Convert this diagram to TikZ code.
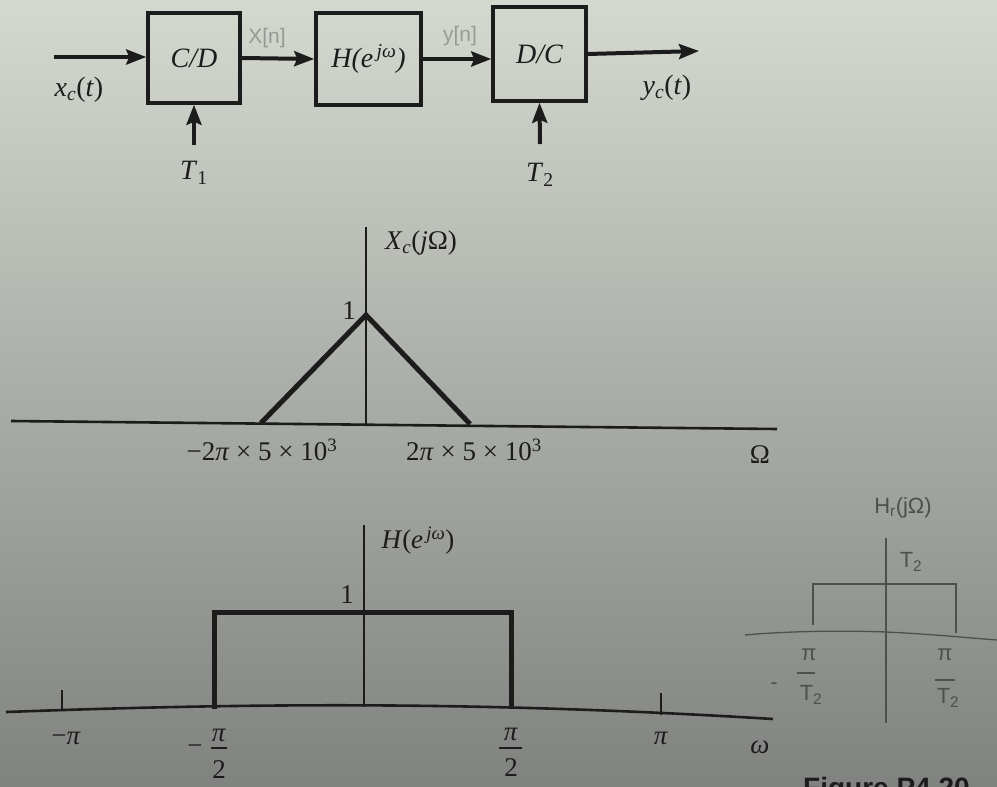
\documentclass[tikz,border=0pt]{standalone}
\usepackage{fontspec}
\setmainfont{Liberation Serif}
\newfontfamily\handfont{Liberation Sans}
\usetikzlibrary{arrows.meta}
\definecolor{bgtop}{RGB}{212,217,208}
\definecolor{bgbot}{RGB}{128,130,127}
\definecolor{ink}{RGB}{28,28,28}
\definecolor{pencil}{RGB}{150,154,150}
\definecolor{pencildark}{RGB}{78,80,78}
\newcommand{\bigfs}{\fontsize{28}{30}\selectfont}
\newcommand{\tickfs}{\fontsize{27}{29}\selectfont}
\tikzset{
  blk/.style={draw=ink, line width=3.5pt, inner sep=0pt, font=\bigfs\itshape, text=ink},
  arr/.style={draw=ink, line width=4pt, -{Stealth[length=20pt,width=15pt,inset=3pt]}},
  lbl/.style={font=\bigfs, text=ink, inner sep=0pt},
  tlbl/.style={font=\tickfs, text=ink, inner sep=0pt},
  axisln/.style={draw=ink, line width=2.6pt},
  vaxis/.style={draw=ink, line width=1.6pt},
  curve/.style={draw=ink, line width=5pt, line join=miter},
  fracbar/.style={draw=ink, line width=1.8pt},
  hand/.style={font=\handfont\fontsize{21}{23}\selectfont, text=pencil, inner sep=0pt},
  handln/.style={draw=pencildark, line width=1.3pt},
  handtx/.style={font=\handfont\fontsize{22}{24}\selectfont, text=pencildark, inner sep=0pt}
}
\begin{document}
\begin{tikzpicture}[x=1pt,y=-1pt]
\useasboundingbox (0,0) rectangle (997,787);
\clip (0,0) rectangle (997,787);
\shade[top color=bgtop, bottom color=bgbot] (0,0) rectangle (997,787);

% ---------- block diagram ----------
\node[blk, minimum width=92pt, minimum height=90pt] (cd) at (194,58) {C/D};
\node[blk, minimum width=105pt, minimum height=92pt] (hb) at (368.5,59) {H(e\textsuperscript{\,jω})};
\node[blk, minimum width=93pt, minimum height=94pt] (dc) at (539.5,54) {D/C};
\coordinate (xin) at (54,57);
\coordinate (yout) at (699,51);
\coordinate (t1in) at (194,145);
\coordinate (t2in) at (540,144);
\draw[arr] (xin) -- (xin -| cd.west);
\draw[arr] (cd.east) -- (hb.west);
\draw[arr] (hb.east) -- (hb.east -| dc.west);
\draw[arr] (dc.east) -- (yout);
\draw[arr] (t1in) -- (cd.south);
\draw[arr] (t2in) -- (dc.south);
\node[lbl] (xc) at (79,90) {\textit{x}\textsubscript{\textit{c}}(\textit{t})};
\node[lbl] (yc) at (667,88) {\textit{y}\textsubscript{\textit{c}}(\textit{t})};
\node[lbl] (t1) at (194,173) {\textit{T}\textsubscript{1}};
\node[lbl] (t2) at (540,175) {\textit{T}\textsubscript{2}};
\node[hand] (xn) at (267,38) {X[n]};
\node[hand] (yn) at (460,36) {y[n]};

% ---------- X_c(j Omega) ----------
\coordinate (oA) at (11,421);
\coordinate (oB) at (777,429);
\coordinate (vtop) at (366,227);
\coordinate (vbot) at (366,424);
\coordinate (tl) at (261,423);
\coordinate (tp) at (366,315);
\coordinate (tr) at (470,424);
\draw[axisln] (oA) -- (oB);
\draw[vaxis] (vtop) -- (vbot);
\draw[curve] (tl) -- (tp) -- (tr);
\node[tlbl] (xcl) at (421,243) {\textit{X}\textsubscript{\textit{c}}(\textit{j}Ω)};
\node[tlbl] (one1) at (349,311) {1};
\node[tlbl] (lneg) at (262,450) {−2\textit{π} × 5 × 10\textsuperscript{3}};
\node[tlbl] (lpos) at (474,450) {2\textit{π} × 5 × 10\textsuperscript{3}};
\node[tlbl] (om) at (760,455) {Ω};

% ---------- H(e^{j omega}) ----------
\coordinate (hA) at (6,712);
\coordinate (hB) at (773,719);
\coordinate (hvt) at (364,525);
\coordinate (hvb) at (364,707);
\draw[axisln] (hA) .. controls (250,703) and (480,701) .. (hB);
\draw[vaxis] (hvt) -- (hvb);
\draw[curve] (214,709) -- (214,612) -- (511,612) -- (511,708);
\draw[vaxis] (62,690) -- (62,711);
\draw[vaxis] (661,693) -- (661,715);
\node[tlbl] (hl) at (418,541) {\textit{H}(\textit{e}\textsuperscript{\,\textit{jω}})};
\node[tlbl] (one2) at (347,595) {1};
\node[tlbl] (mpi) at (66,738) {−\textit{π}};
\node[tlbl] (ppi) at (661,738) {\textit{π}};
\node[tlbl] (w) at (760,747) {\textit{ω}};
% -pi/2
\node[tlbl] (mpim) at (195,750) {−};
\node[tlbl] (mpin) at (219,735) {\textit{π}};
\node[tlbl] (mpid) at (219,770) {2};
\draw[fracbar] (211,748) -- (227,748);
% pi/2
\node[tlbl] (ppin) at (511,734) {\textit{π}};
\node[tlbl] (ppid) at (511,768) {2};
\draw[fracbar] (499,748) -- (522,748);

% ---------- handwritten sketch ----------
\draw[handln] (886,538) -- (886,723);
\draw[handln] (813,625) -- (813,584) -- (956,584) -- (956,633);
\draw[handln] (745,635) .. controls (800,630) and (860,631) .. (886,632) .. controls (930,634) and (970,638) .. (997,640);
\node[handtx] (hr) at (903,508) {H\textsubscript{r}(jΩ)};
\node[handtx] (ht2) at (911,562) {T\textsubscript{2}};
\node[handtx] (hmn) at (809,655) {π};
\node[handtx] (hmd) at (811,695) {T\textsubscript{2}};
\draw[handln] (797,673) -- (815,673);
\node[handtx] (hmm) at (774,686) {-};
\node[handtx] (hpn) at (945,655) {π};
\node[handtx] (hpd) at (948,698) {T\textsubscript{2}};
\draw[handln] (935,680) -- (955,680);

% ---------- figure caption (cut off at page edge) ----------
\node[anchor=base west, inner sep=0pt, font=\handfont\bfseries\fontsize{28}{30}\selectfont, text=ink] (cap) at (803,797) {Figure P4.20};
\end{tikzpicture}
\end{document}
